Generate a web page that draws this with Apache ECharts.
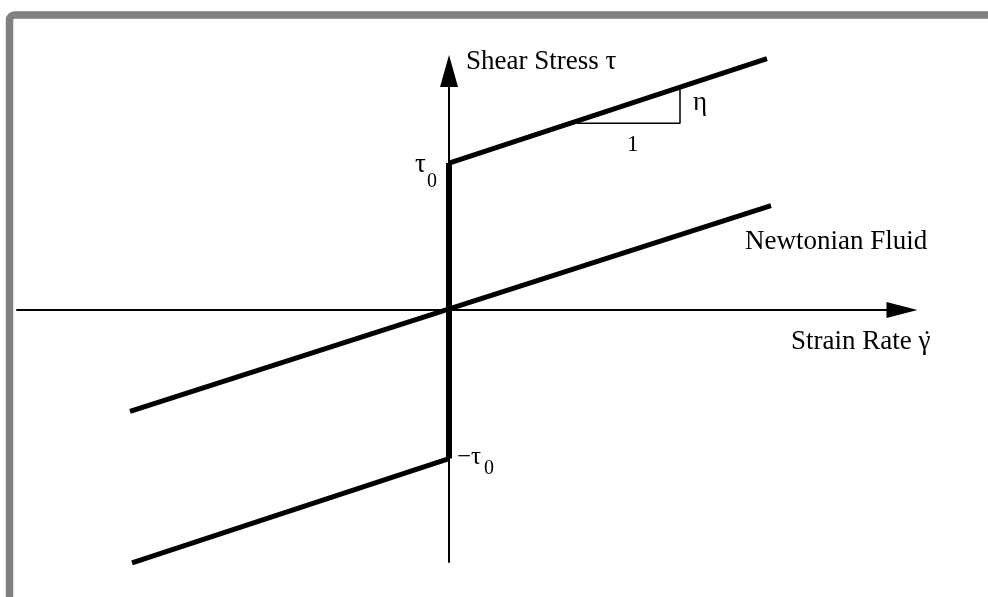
<!DOCTYPE html>
<html>
<head>
<meta charset="utf-8">
<title>Bingham plastic vs Newtonian fluid</title>
<script src="https://cdn.jsdelivr.net/npm/echarts@6/dist/echarts.min.js"></script>
<style>
    html, body { margin: 0; padding: 0; background: #fff; }
    #chart_con { width: 988px; height: 597px; }
</style>
</head>
<body>
<div id="chart_con"></div>
<script>
// strain rate on x, shear stress on y (tau0 = 1)
var newtonianLine = [[-3.19, -0.69], [3.22, 0.71]];
var binghamUpper = [[0, 1.0], [3.18, 1.71]];
var binghamLower = [[-3.17, -1.72], [0, -1.01]];
var yieldSegment = [[0, -1.01], [0, 1.0]];
var slopeTriangle = [[1.28, 1.27], [2.31, 1.27], [2.31, 1.5]];

var xRange = [-4.32, 4.53];
var yRange = [-1.714, 1.626];

var font = 'Liberation Serif, Times New Roman, serif';

function label(text, x, y, size, align) {
    return {
        type: 'text',
        x: x,
        y: y,
        style: {
            text: text,
            font: size + 'px ' + font,
            fill: '#000',
            textAlign: align || 'left',
            textVerticalAlign: 'middle'
        }
    };
}

var chart = echarts.init(document.getElementById('chart_con'));

var thick = { color: '#000', width: 5 };

var option = {
    backgroundColor: '#fff',
    animation: false,
    grid: { left: 17, right: 86, top: 71, bottom: 35 },
    xAxis: {
        type: 'value',
        min: xRange[0],
        max: xRange[1],
        splitLine: { show: false },
        axisTick: { show: false },
        axisLabel: { show: false },
        axisLine: {
            onZero: true,
            symbol: ['none', 'triangle'],
            symbolSize: [16, 31],
            lineStyle: { color: '#000', width: 2 }
        }
    },
    yAxis: {
        type: 'value',
        min: yRange[0],
        max: yRange[1],
        splitLine: { show: false },
        axisTick: { show: false },
        axisLabel: { show: false },
        axisLine: {
            onZero: true,
            symbol: ['none', 'triangle'],
            symbolSize: [18, 32],
            lineStyle: { color: '#000', width: 2 }
        }
    },
    series: [
        { name: 'Newtonian', type: 'line', data: newtonianLine, showSymbol: false, clip: false, lineStyle: thick },
        { name: 'Bingham+', type: 'line', data: binghamUpper, showSymbol: false, clip: false, lineStyle: thick },
        { name: 'Bingham-', type: 'line', data: binghamLower, showSymbol: false, clip: false, lineStyle: thick },
        { name: 'yield', type: 'line', data: yieldSegment, showSymbol: false, clip: false, lineStyle: { color: '#000', width: 6 } },
        { name: 'slope', type: 'line', data: slopeTriangle, showSymbol: false, clip: false, lineStyle: { color: '#000', width: 1.5 } }
    ],
    graphic: [
        {
            type: 'rect',
            shape: { x: 9.5, y: 15, width: 1200, height: 1000, r: 5 },
            style: { fill: 'none', stroke: '#808080', lineWidth: 7.5 }
        },
        label('Shear Stress τ', 466, 62, 27),
        label('Newtonian Fluid', 745, 242, 27),
        label('Strain Rate γ', 791, 342, 27),
        label('˙', 927, 342, 27, 'center'),
        label('η', 693, 103, 27),
        label('1', 627, 145, 23),
        label('τ', 415, 165, 27),
        label('0', 427, 182, 20),
        label('−τ', 457, 457, 25),
        label('0', 484, 469, 20)
    ]
};

chart.setOption(option);
window.addEventListener('resize', function () {
    chart.resize();
});
</script>
</body>
</html>
